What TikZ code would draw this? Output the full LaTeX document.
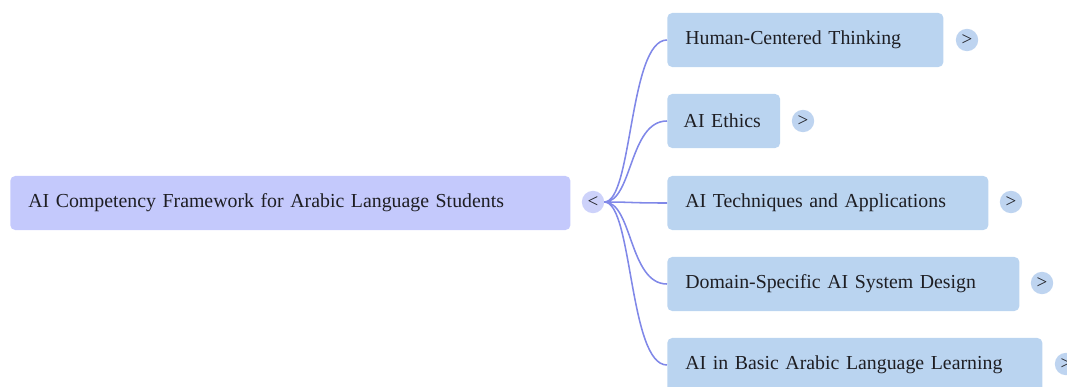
\documentclass[tikz,border=0pt]{standalone}
\usepackage{fontspec}
\setmainfont{Liberation Serif}
\usepackage{tikz}
\usetikzlibrary{positioning, calc}
\definecolor{rootfill}{RGB}{196,201,252}
\definecolor{kidfill}{RGB}{186,212,240}
\definecolor{togroot}{RGB}{205,210,250}
\definecolor{togkid}{RGB}{190,212,240}
\definecolor{linkblue}{RGB}{128,136,232}
\definecolor{txtdark}{RGB}{30,30,35}
\tikzset{
  rootbox/.style={rectangle, fill=rootfill, anchor=west,
    text width=13.1cm, align=left, inner xsep=0.45cm,
    minimum height=1.35cm, rounded corners=3.5pt, text=txtdark},
  kidbox/.style={rectangle, fill=kidfill, anchor=west,
    align=left, inner xsep=0.45cm,
    minimum height=1.35cm, rounded corners=3.5pt, text=txtdark},
  toggle/.style={circle, fill=togkid, minimum size=0.56cm, inner sep=0pt,
    font=\fontsize{13.5}{14}\selectfont, text=txtdark},
  link/.style={color=linkblue, line width=1.1pt}
}
\begin{document}
\begin{tikzpicture}[x=0.025cm, y=-0.025cm, every node/.style={font=\fontsize{14.1}{17}\selectfont}]
  \useasboundingbox (0,0) rectangle (1067,387);
  \node[rootbox] (root) at (10,203) {AI Competency Framework for Arabic Language Students};
  \node[toggle, fill=togroot] (tg) at (593,202) {<};

  \node[kidbox, text width=6.0cm] (hct) at (667,40) {Human-Centered Thinking};
  \node[kidbox, text width=2.0cm, inner xsep=0.41cm] (eth) at (667,121) {AI Ethics};
  \node[kidbox, text width=7.125cm] (tap) at (667,203) {AI Techniques and Applications};
  \node[kidbox, text width=7.9cm] (dsd) at (667,284) {Domain-Specific AI System Design};
  \node[kidbox, text width=8.475cm] (bal) at (667,365) {AI in Basic Arabic Language Learning};

  \node[toggle] (thct) at (967,40) {>};
  \node[toggle] (teth) at (803,121) {>};
  \node[toggle] (ttap) at (1011,202) {>};
  \node[toggle] (tdsd) at (1042,283) {>};
  \node[toggle] (tbal) at (1066,364) {>};

  \foreach \k in {hct, eth, tap, dsd, bal}
    \draw[link] (tg.east) .. controls +(28,0) and +(-38,0) .. (\k.west);
\end{tikzpicture}
\end{document}
